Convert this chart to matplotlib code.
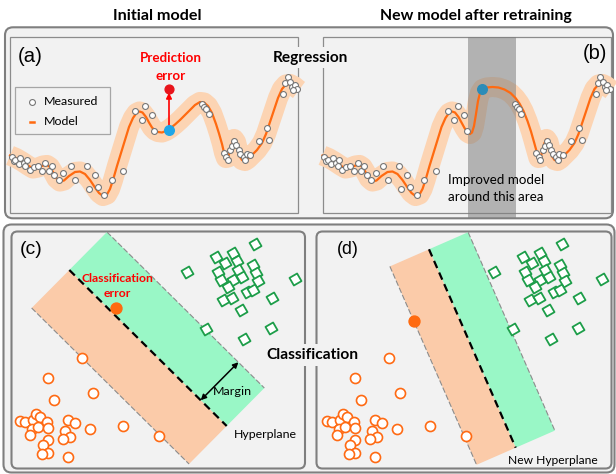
import numpy as np
import matplotlib.pyplot as plt
from matplotlib.patches import FancyBboxPatch, Rectangle, Polygon
from matplotlib.markers import MarkerStyle
from matplotlib.transforms import Affine2D

plt.rcParams['font.family'] = ['Lato', 'DejaVu Sans']

# ---------------- regression data (units of panel (a)) ----------------
meas_x = [11.5, 13.5, 15, 18.5, 20, 23.5, 26.5, 25, 29.5, 33.5, 37.5, 41.5, 45, 48.5, 51.5,
          54, 58.5, 63, 70.5, 75, 86.5, 94.5, 88.5, 97.5, 104, 111.5, 123, 135, 145, 141.5,
          151.5, 154, 202, 204, 206, 208.5, 223.5, 226, 227.5, 230, 232, 234, 236, 238.5, 240,
          243.5, 246.5, 245, 250, 258.5, 266.5, 269, 283, 285, 287.5, 290, 292, 294.5, 297, 293]
meas_y = [156.5, 161, 160, 163.5, 157.5, 163, 160, 166, 170, 167, 165.5, 170.5, 162.5, 170.5, 166,
          174.5, 180, 173, 165.5, 180, 165.5, 174.5, 189, 186.5, 194.5, 180, 170.5, 111, 106, 119.5,
          114.5, 131, 103.5, 106.5, 108.5, 113.5, 152.5, 157, 160, 149.5, 146, 141, 145, 150, 153.5,
          157, 154, 159.5, 155, 140.5, 128, 139.5, 93.5, 83, 77, 82, 87, 84.5, 88.5, 89.5]

model_x = [10, 16, 22, 28, 33, 38, 43, 47, 50, 53, 56.5, 60, 64, 69, 75, 80, 85, 90, 95, 99,
           103, 107, 110, 113, 117, 121, 125, 129, 133, 136.5, 139.5, 142.5, 146, 149, 152, 155,
           158, 162, 166, 170, 175, 180, 185, 190, 195, 200, 204, 208, 212, 216, 219, 222, 224,
           226, 228, 230, 232, 234, 236, 238, 240, 242, 245, 248, 252, 257, 262, 266, 270, 274,
           278, 282, 286, 290, 294, 297, 299]
model_y = [155.5, 158, 161.5, 165.5, 168.5, 167.5, 165.5, 165, 167, 172, 178.5, 181.5, 180.5, 176,
           172, 171.5, 174, 180, 187.5, 193, 196, 194.5, 189, 180, 166, 153, 140, 127, 118, 113,
           111.5, 112.5, 117, 122.5, 127.5, 130.5, 132, 132.5, 131, 128.5, 124.5, 120, 115, 110,
           105, 102, 102.5, 106, 113, 124, 133.5, 144, 152.5, 158, 157.5, 151, 143, 139, 142, 150,
           157, 160, 161, 159, 155, 150, 143, 134, 122, 110, 98, 89, 84.5, 84, 86, 88.5, 90]

# retrained model: only this stretch changes
retrain_x = [149, 152, 155, 157.5, 159.5, 161.5, 163.5, 165.5, 167.5, 170, 174, 180, 186, 192,
             198, 203, 207, 211, 215, 218.5, 221.5, 224]
retrain_y = [122.5, 128, 132.5, 134, 132.5, 126, 114, 101, 93, 89, 87.5, 87, 87.5, 89.5, 93, 98,
             103.5, 111, 121, 131.5, 142, 151]

err_x = 169
err_pred_y = 129.5   # model value
err_true_y = 88.5    # new measurement

shift_b = 312.5
window_x = (468.3, 516)

# ---------------- classification data (units of panel (c)) ----------------
sq_x = [255, 233.3, 216, 225, 236.7, 253.3, 218.3, 238.3, 256, 220.7, 233.3, 241.7, 258.3,
        228.3, 246.7, 253.3, 222.7, 232.3, 240.7, 271.7, 295, 186.7, 205.7, 244.3, 270.7]
sq_y = [244, 252.7, 256.7, 262.7, 260.7, 265, 271.7, 270, 272.7, 280, 280, 276.7, 280.7,
        286.7, 291.7, 290, 300, 298.3, 310, 298.3, 279.3, 272.3, 329.3, 339.3, 327.7]
circ_x = [81.7, 47.7, 93.3, 54, 20, 25, 33.3, 36, 40, 46.7, 31.7, 38.3, 48.3, 30, 68.3, 75,
          65, 70, 63.3, 48.3, 43.3, 48.3, 41.7, 68.3, 90, 123.3, 159]
circ_y = [357.7, 378, 393.3, 400, 421, 422.3, 420, 414, 416.7, 421.7, 429.3, 427.3, 428.3, 435,
          420, 422.7, 430.7, 436.7, 439.3, 440, 445, 453.3, 454.3, 456.7, 429.3, 426, 436]
shift_d = 307

miss_c = (116, 307.7)
miss_d = (414, 320.7)

hyper_c = [(69.3, 270), (226.7, 426)]
margin_c = 53.5
hyper_d = [(429, 249.3), (515.7, 447.7)]
margin_d = 42.7

PANEL = '#F2F2F2'
EDGE = '#7F7F7F'
BAND = '#FCD4B3'
LINE = '#FF6A10'
MINT = '#99F7C6'
PEACH = '#FBCBA9'
SQ_EDGE = '#1E9E4A'
CIRC_EDGE = '#FF6A13'

fig = plt.figure(figsize=(6.16, 4.74), dpi=100)
ax = fig.add_axes([0, 0, 1, 1])
ax.set_xlim(0, 616)
ax.set_ylim(474, 0)
ax.axis('off')
renderer = fig.canvas.get_renderer()


def put(x, y, s, width, **kw):
    """Place text and scale its font so it spans `width` pixels."""
    t = ax.text(x, y, s, fontsize=10, **kw)
    w = t.get_window_extent(renderer).width
    t.set_fontsize(10 * width / w)
    return t.get_fontsize()


# frames
for x0, y0, x1, y1, r in [(5, 27.3, 613, 218.3, 8), (3.5, 224.5, 614.5, 472.5, 8)]:
    ax.add_patch(FancyBboxPatch((x0, y0), x1 - x0, y1 - y0,
                                boxstyle=f'round,pad=0,rounding_size={r}',
                                fc=PANEL, ec=EDGE, lw=1.5, zorder=1))
for x0 in (10, 322.5):
    ax.add_patch(Rectangle((x0, 37.3), 288, 175.5, fc=PANEL, ec='#8C8C8C', lw=0.9, zorder=2))
for x0, x1 in [(11.5, 305), (316.5, 611.5)]:
    ax.add_patch(FancyBboxPatch((x0, 231.5), x1 - x0, 237,
                                boxstyle='round,pad=0,rounding_size=6',
                                fc=PANEL, ec=EDGE, lw=1.5, zorder=2))

# ---------------- regression panels ----------------
mx = np.array(model_x)
my = np.array(model_y)
rx = np.array(retrain_x)
ry = np.array(retrain_y)
new_x = np.concatenate([mx[mx < rx[0]], rx, mx[mx > rx[-1]]])
new_y = np.concatenate([my[mx < rx[0]], ry, my[mx > rx[-1]]])

for off, cx, cy in [(0, mx, my), (shift_b, new_x, new_y)]:
    ax.plot(cx + off, cy, color=BAND, lw=14.5, solid_capstyle='butt',
            solid_joinstyle='round', zorder=3)
    ax.plot(cx + off, cy, color=LINE, lw=1.6, solid_joinstyle='round', zorder=5)
    ax.scatter(np.array(meas_x) + off, meas_y, s=18, fc='white', ec='#777777',
               lw=0.8, zorder=6)

# prediction error in (a)
ax.annotate('', xy=(err_x, err_true_y), xytext=(err_x, err_pred_y),
            arrowprops=dict(arrowstyle='-|>', color='red', lw=1.2,
                            mutation_scale=8, shrinkA=0, shrinkB=3), zorder=7)
ax.scatter([err_x], [err_true_y], s=40, color='#E8141B', zorder=8)
ax.scatter([err_x], [err_pred_y], s=48, color='#1EA6E8', zorder=8)
fs = put(171, 58.3, 'Prediction', 61.7, color='red', fontweight='bold',
         ha='center', va='center', zorder=9)
ax.text(171, 76, 'error', fontsize=fs, color='red', fontweight='bold',
        ha='center', va='center', zorder=9)

# new measurement and retraining window in (b)
ax.add_patch(Rectangle((window_x[0], 37.3), window_x[1] - window_x[0], 181,
                       fc='#7F7F7F', ec='none', alpha=0.55, zorder=4))
ax.scatter([err_x + shift_b], [err_true_y], s=48, color='#2B8CB8', zorder=8)
fs = put(448.3, 180, 'Improved model', 96.7, ha='left', va='center', zorder=9)
ax.text(448.3, 196.7, 'around this area', fontsize=fs, ha='left', va='center', zorder=9)

# legend
ax.add_patch(Rectangle((15, 87.3), 95, 46.7, fc=PANEL, ec='#A6A6A6', lw=0.9, zorder=6))
ax.scatter([32.3], [101.7], s=18, fc='white', ec='#777777', lw=0.8, zorder=7)
ax.plot([30.3, 34.3], [121.7, 121.7], color=LINE, lw=1.8, zorder=7)
fs = put(44.3, 101.7, 'Measured', 54.7, ha='left', va='center', zorder=7)
ax.text(44.3, 121.7, 'Model', fontsize=fs, ha='left', va='center', zorder=7)

# ---------------- classification panels ----------------
sq_marker = MarkerStyle('s', transform=Affine2D().rotate_deg(30))


def svm_panel(hyper, margin, shift, miss):
    p0, p1 = np.array(hyper[0]), np.array(hyper[1])
    d = (p1 - p0) / np.linalg.norm(p1 - p0)
    n = np.array([d[1], -d[0]])
    up, lo = margin * n, -margin * n
    ax.add_patch(Polygon([p0, p0 + up, p1 + up, p1], fc=MINT, ec='none', zorder=3))
    ax.add_patch(Polygon([p0 + lo, p0, p1, p1 + lo], fc=PEACH, ec='none', zorder=3))
    for o in (up, lo):
        ax.plot([p0[0] + o[0], p1[0] + o[0]], [p0[1] + o[1], p1[1] + o[1]],
                color='#8C8C8C', lw=0.8, dashes=(5, 2), zorder=4)
    ax.plot([p0[0], p1[0]], [p0[1], p1[1]], color='black', lw=1.6,
            dashes=(3.5, 2.2), zorder=4)
    ax.scatter(np.array(sq_x) + shift, sq_y, marker=sq_marker, s=40, fc='white',
               ec=SQ_EDGE, lw=1.3, zorder=6)
    ax.scatter(np.array(circ_x) + shift, circ_y, s=52, fc='white',
               ec=CIRC_EDGE, lw=1.2, zorder=6)
    ax.scatter([miss[0]], [miss[1]], s=62, color='#FF6A0F', zorder=7)
    return p0, d, n


p0, d, n = svm_panel(hyper_c, margin_c, 0, miss_c)
a0 = p0 + 185 * d
a1 = a0 + margin_c * n
ax.annotate('', xy=tuple(a1), xytext=tuple(a0),
            arrowprops=dict(arrowstyle='<|-|>', color='black', lw=1.1,
                            mutation_scale=8, shrinkA=0, shrinkB=0), zorder=7)
put(232.3, 391.7, 'Margin', 38.7, ha='center', va='center', zorder=8)
put(265, 434, 'Hyperplane', 63.7, ha='center', va='center', zorder=8)
fs = put(117.8, 278.3, 'Classification', 72, color='red', fontweight='bold',
         ha='center', va='center', zorder=8)
ax.text(117, 293.3, 'error', fontsize=fs, color='red', fontweight='bold',
        ha='center', va='center', zorder=8)

svm_panel(hyper_d, margin_d, shift_d, miss_d)
put(552.5, 460, 'New Hyperplane', 89, ha='center', va='center', zorder=8)

# ---------------- titles and labels ----------------
put(157.5, 16, 'Initial model', 89, fontweight='bold', ha='center', va='center')
put(476, 16, 'New model after retraining', 192, fontweight='bold', ha='center', va='center')
put(310.5, 57.5, 'Regression', 75.6, fontweight='bold', ha='center', va='center', zorder=10,
    bbox=dict(fc=PANEL, ec='none', boxstyle='square,pad=0.25'))
put(312, 355, 'Classification', 92, fontweight='bold', ha='center', va='center', zorder=10,
    bbox=dict(fc=PANEL, ec='none', boxstyle='square,pad=0.25'))

for x, y, s, w in [(30.5, 56, '(a)', 25), (594.7, 53.3, '(b)', 24.5),
                   (31.3, 250, '(c)', 22.7), (347.5, 249.3, '(d)', 21.7)]:
    put(x, y, s, w, family='Liberation Sans', ha='center', va='center', zorder=9)

fig.savefig('out.png', dpi=100)
